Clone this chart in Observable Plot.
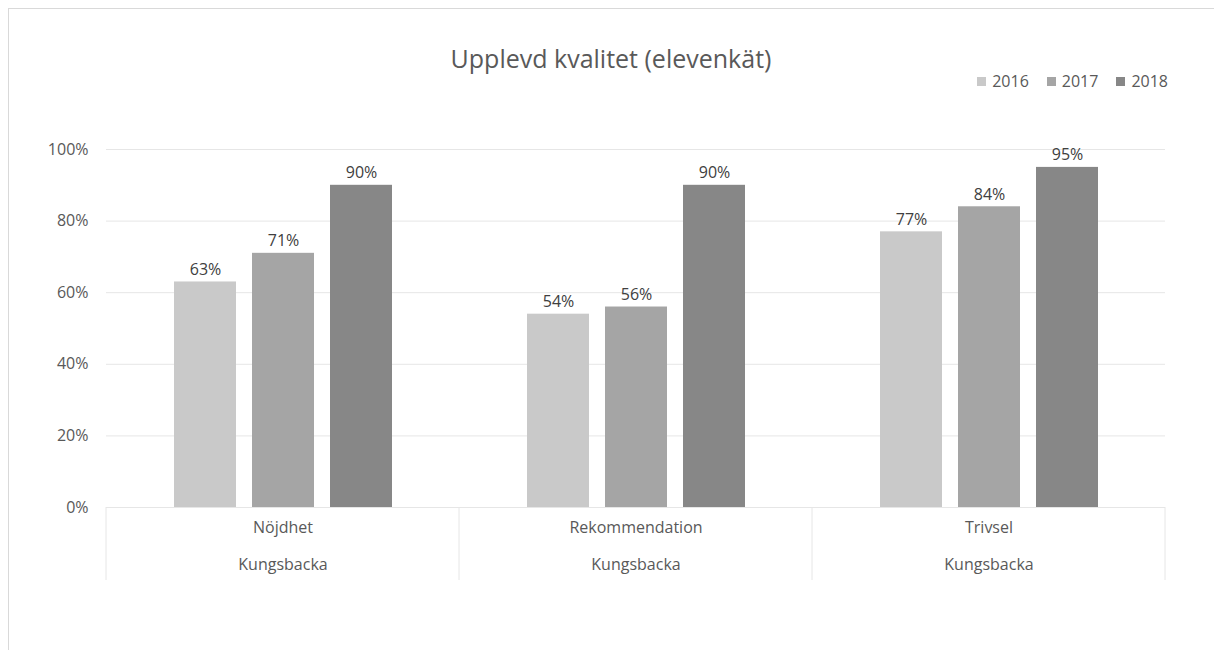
<!DOCTYPE html>
<html><head><meta charset="utf-8">
<script src="https://cdn.jsdelivr.net/npm/d3@7"></script>
<script src="https://cdn.jsdelivr.net/npm/@observablehq/plot@0.6"></script>
<style>
body{margin:0;background:#fff;}
#wrap{position:relative;width:1214px;height:650px;overflow:hidden;font-family:"Open Sans",sans-serif;background:#fff;}
#border{position:absolute;left:8px;top:8px;width:1300px;height:700px;border-left:1px solid #d9d9d9;border-top:1px solid #d9d9d9;}
#title{position:absolute;top:43px;left:0;width:1222px;text-align:center;font-size:25px;color:#595959;line-height:1.2;}
#legend{position:absolute;top:70px;right:46px;display:flex;gap:18px;font-size:16px;color:#595959;line-height:22px;}
#legend .item{display:flex;align-items:center;gap:6px;}
#legend .sw{width:9px;height:9px;display:inline-block;}
#chart{position:absolute;top:110px;left:0;}
</style>
</head><body>
<div id="wrap">
  <div id="border"></div>
  <div id="title">Upplevd kvalitet (elevenkät)</div>
  <div id="legend"></div>
  <div id="chart"></div>
</div>
<script>
const categories = ["Nöjdhet", "Rekommendation", "Trivsel"];
const region = ["Kungsbacka", "Kungsbacka", "Kungsbacka"];
const years = ["2016", "2017", "2018"];
const values2016 = [0.63, 0.54, 0.77];
const values2017 = [0.71, 0.56, 0.84];
const values2018 = [0.90, 0.90, 0.95];
const colors = ["#c9c9c9", "#a5a5a5", "#878787"];
const yTicks = [0, 0.2, 0.4, 0.6, 0.8, 1.0];

const series = [values2016, values2017, values2018];
const rows = [];
categories.forEach((c, i) => {
  years.forEach((yr, j) => rows.push({category: c, year: yr, value: series[j][i]}));
});

const pct = v => Math.round(v * 100) + "%";

const plot = Plot.plot({
  width: 1214,
  height: 490,
  marginTop: 39,
  marginBottom: 93,
  marginLeft: 106,
  marginRight: 49,
  style: {fontFamily: "'Open Sans', sans-serif", fontSize: "16px", color: "#595959", background: "transparent", overflow: "visible"},
  fx: {domain: categories, padding: 0, axis: null},
  x: {domain: years, paddingInner: 0.21, paddingOuter: 0.853, axis: null},
  y: {domain: [0, 1], ticks: yTicks, tickFormat: pct, tickSize: 0, tickPadding: 18, label: null},
  color: {domain: years, range: colors},
  marks: [
    Plot.ruleY(yTicks, {stroke: "#e6e6e6", strokeWidth: 1}),
    Plot.barY(rows, {fx: "category", x: "year", y: "value", fill: "year"}),
    Plot.text(rows, {fx: "category", x: "year", y: "value", text: d => pct(d.value), lineAnchor: "bottom", dy: -7, fill: "#404040", fontSize: 16}),
    Plot.text(categories, {fx: d => d, text: d => d, frameAnchor: "bottom", dy: 25, fill: "#595959", fontSize: 16}),
    Plot.text(categories, {fx: d => d, text: (d, i) => region[i], frameAnchor: "bottom", dy: 62, fill: "#595959", fontSize: 16})
  ]
});

document.getElementById("chart").appendChild(plot);

// category separators below the axis, positioned from the fx scale
const fx = plot.scale("fx");
const y = plot.scale("y");
const y0 = y.apply(0);
const edges = categories.map(c => fx.apply(c));
edges.push(fx.apply(categories[categories.length - 1]) + fx.bandwidth);
d3.select(plot).append("g")
  .selectAll("line").data(edges).join("line")
  .attr("x1", d => d).attr("x2", d => d)
  .attr("y1", y0).attr("y2", y0 + 73)
  .attr("stroke", "#e6e6e6");

// legend
const lg = d3.select("#legend");
years.forEach((yr, j) => {
  const it = lg.append("div").attr("class", "item");
  it.append("span").attr("class", "sw").style("background", colors[j]);
  it.append("span").text(yr);
});
</script>
</body></html>
